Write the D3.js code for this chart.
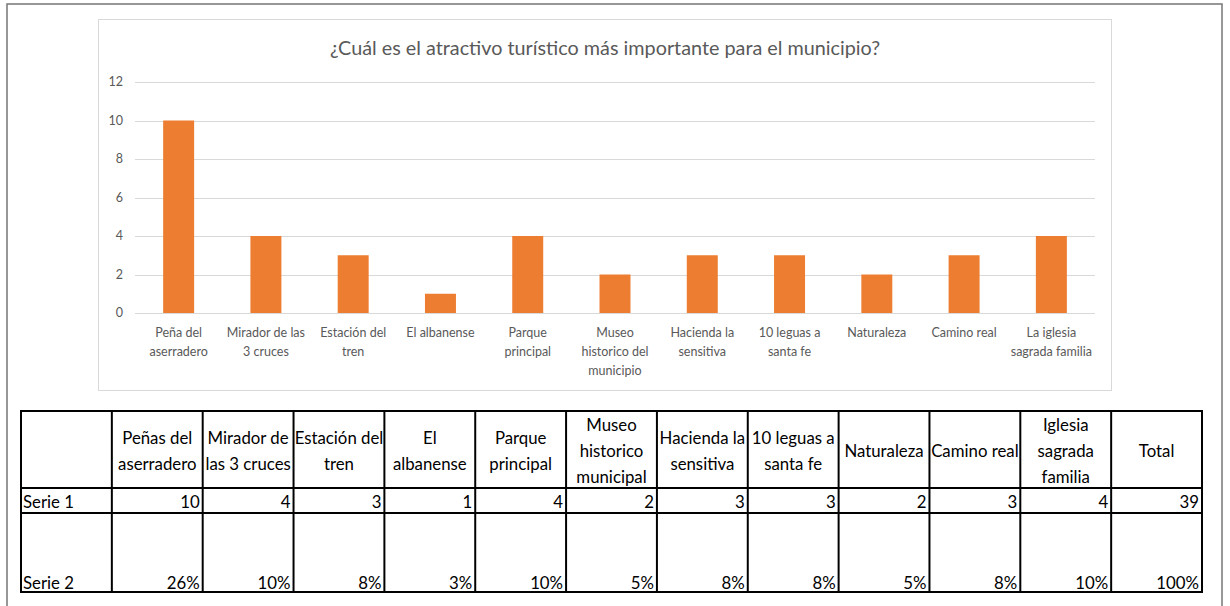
<!DOCTYPE html>
<html>
<head>
<meta charset="utf-8">
<script src="https://cdn.jsdelivr.net/npm/d3@7"></script>
<style>
  body { margin: 0; background: #fff; }
  svg { display: block; }
</style>
</head>
<body>
<div id="chart"></div>
<script>
// chart data
var titleText = "¿Cuál es el atractivo turístico más importante para el municipio?";
var categories = ["Peña del\naserradero", "Mirador de las\n3 cruces", "Estación del\ntren",
  "El albanense", "Parque\nprincipal", "Museo\nhistorico del\nmunicipio", "Hacienda la\nsensitiva",
  "10 leguas a\nsanta fe", "Naturaleza", "Camino real", "La iglesia\nsagrada familia"];
var values = [10, 4, 3, 1, 4, 2, 3, 3, 2, 3, 4];
var yTicks = [0, 2, 4, 6, 8, 10, 12];

// table data
var tableHeaders = ["", "Peñas del\naserradero", "Mirador de\nlas 3 cruces", "Estación del\ntren",
  "El\nalbanense", "Parque\nprincipal", "Museo\nhistorico\nmunicipal", "Hacienda la\nsensitiva",
  "10 leguas a\nsanta fe", "Naturaleza", "Camino real", "Iglesia\nsagrada\nfamilia", "Total"];
var serie1 = ["Serie 1", 10, 4, 3, 1, 4, 2, 3, 3, 2, 3, 4, 39];
var serie2 = ["Serie 2", "26%", "10%", "8%", "3%", "10%", "5%", "8%", "8%", "5%", "8%", "10%", "100%"];

var width = 1230, height = 606;
var font = "Lato, 'Open Sans', sans-serif";

var svg = d3.select("#chart").append("svg")
    .attr("width", width)
    .attr("height", height);

// outer frame
svg.append("rect")
    .attr("x", 7).attr("y", 4)
    .attr("width", 1215).attr("height", 620)
    .attr("fill", "none")
    .attr("stroke", "#767676")
    .attr("stroke-width", 1.5);

// chart area box
svg.append("rect")
    .attr("x", 98.5).attr("y", 19.5)
    .attr("width", 1013).attr("height", 371)
    .attr("fill", "#fff")
    .attr("stroke", "#d9d9d9")
    .attr("stroke-width", 1);

svg.append("text")
    .attr("x", 605).attr("y", 55)
    .attr("text-anchor", "middle")
    .attr("font-family", font)
    .attr("font-size", "19.8px")
    .attr("fill", "#595959")
    .text(titleText);

var plot = {left: 135, right: 1095, top: 82, bottom: 313};

var x = d3.scaleBand()
    .domain(categories)
    .range([plot.left, plot.right])
    .paddingInner(0.645)
    .paddingOuter(0.3225);

var y = d3.scaleLinear()
    .domain([0, 12])
    .range([plot.bottom, plot.top]);

// gridlines
svg.append("g").selectAll("line")
    .data(yTicks)
  .enter().append("line")
    .attr("x1", plot.left).attr("x2", plot.right)
    .attr("y1", function(d) { return Math.round(y(d)) + 0.5; })
    .attr("y2", function(d) { return Math.round(y(d)) + 0.5; })
    .attr("stroke", "#d9d9d9")
    .attr("stroke-width", 1);

// y labels
svg.append("g").selectAll("text")
    .data(yTicks)
  .enter().append("text")
    .attr("x", 123)
    .attr("y", function(d) { return y(d); })
    .attr("dy", "0.35em")
    .attr("text-anchor", "end")
    .attr("font-family", font)
    .attr("font-size", "12.5px")
    .attr("fill", "#595959")
    .text(function(d) { return d; });

// bars
svg.append("g").selectAll("rect")
    .data(values)
  .enter().append("rect")
    .attr("x", function(d, i) { return x(categories[i]); })
    .attr("y", function(d) { return y(d); })
    .attr("width", x.bandwidth())
    .attr("height", function(d) { return y(0) - y(d); })
    .attr("fill", "#ed7d31");

// x labels
var xl = svg.append("g").selectAll("text")
    .data(categories)
  .enter().append("text")
    .attr("text-anchor", "middle")
    .attr("font-family", font)
    .attr("font-size", "12.5px")
    .attr("fill", "#595959");

xl.selectAll("tspan")
    .data(function(d) { return d.split("\n").map(function(t) { return {t: t, c: d}; }); })
  .enter().append("tspan")
    .attr("x", function(d) { return x(d.c) + x.bandwidth() / 2; })
    .attr("y", function(d, i) { return 337 + i * 19; })
    .text(function(d) { return d.t; });

// table
var colX = d3.range(tableHeaders.length + 1).map(function(i) {
  return 21 + i * (1202 - 21) / tableHeaders.length;
});
var rowY = [411, 488, 513, 592];
var table = svg.append("g");

table.selectAll("line.v")
    .data(colX)
  .enter().append("line")
    .attr("class", "v")
    .attr("x1", function(d) { return d; }).attr("x2", function(d) { return d; })
    .attr("y1", rowY[0] - 1).attr("y2", rowY[3] + 1)
    .attr("stroke", "#000")
    .attr("stroke-width", 2);

table.selectAll("line.h")
    .data(rowY)
  .enter().append("line")
    .attr("class", "h")
    .attr("x1", colX[0] - 1).attr("x2", colX[colX.length - 1] + 1)
    .attr("y1", function(d) { return d; }).attr("y2", function(d) { return d; })
    .attr("stroke", "#000")
    .attr("stroke-width", 2);

var tfont = "16.8px";
var headers = table.selectAll("text.hd")
    .data(tableHeaders)
  .enter().append("text")
    .attr("class", "hd")
    .attr("text-anchor", "middle")
    .attr("font-family", font)
    .attr("font-size", tfont)
    .attr("fill", "#000");

headers.selectAll("tspan")
    .data(function(d, i) {
      var lines = d.split("\n");
      return lines.map(function(t, j) { return {t: t, i: i, j: j, n: lines.length}; });
    })
  .enter().append("tspan")
    .attr("x", function(d) { return (colX[d.i] + colX[d.i + 1]) / 2; })
    .attr("y", function(d) { return 451 + (d.j - (d.n - 1) / 2) * 26 + 6; })
    .text(function(d) { return d.t; });

function dataRow(row, baseline) {
  table.selectAll(null)
      .data(row)
    .enter().append("text")
      .attr("x", function(d, i) { return i === 0 ? colX[0] + 2 : colX[i + 1] - 3; })
      .attr("y", baseline)
      .attr("text-anchor", function(d, i) { return i === 0 ? "start" : "end"; })
      .attr("font-family", font)
      .attr("font-size", tfont)
      .attr("fill", "#000")
      .text(function(d) { return d; });
}
dataRow(serie1, 508);
dataRow(serie2, 589);
</script>
</body>
</html>
